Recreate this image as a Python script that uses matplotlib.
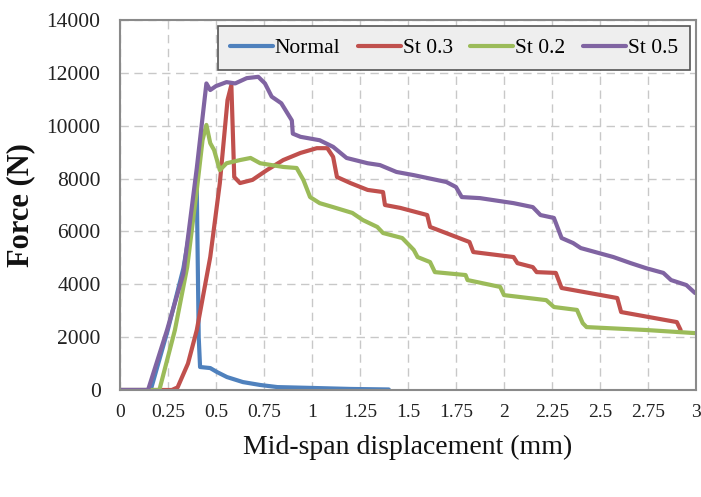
import matplotlib
matplotlib.use("Agg")
import matplotlib.pyplot as plt
import numpy as np

# ---------------- data ----------------
normal_x = [0.0, 0.16, 0.25, 0.33, 0.40, 0.41, 0.417, 0.47, 0.505, 0.557, 0.64, 0.73, 0.82, 0.99, 1.20, 1.40]
normal_y = [0, 0, 2300, 4600, 7600, 2000, 870, 830, 680, 490, 300, 190, 110, 80, 40, 20]

st03_x = [0.0, 0.27, 0.30, 0.354, 0.40, 0.47, 0.52, 0.56, 0.58, 0.595, 0.625, 0.69, 0.765, 0.85, 0.94,
          1.025, 1.08, 1.11, 1.13, 1.20, 1.29, 1.37, 1.38, 1.46, 1.60, 1.615, 1.82, 1.84, 2.05, 2.07,
          2.15, 2.17, 2.27, 2.30, 2.59, 2.61, 2.90, 2.92]
st03_y = [0, 0, 100, 1000, 2270, 5030, 7830, 10970, 11540, 8060, 7830, 7950, 8320, 8700, 8970,
          9150, 9150, 8820, 8060, 7830, 7570, 7490, 7000, 6890, 6620, 6170, 5600, 5220, 5030, 4800,
          4650, 4460, 4430, 3860, 3480, 2950, 2570, 2270]

st02_x = [0.0, 0.205, 0.286, 0.35, 0.40, 0.43, 0.45, 0.47, 0.49, 0.52, 0.555, 0.625, 0.68, 0.73, 0.85,
          0.92, 0.955, 0.99, 1.04, 1.11, 1.21, 1.265, 1.34, 1.37, 1.47, 1.53, 1.55, 1.615, 1.64, 1.80,
          1.81, 1.98, 2.00, 2.22, 2.26, 2.38, 2.41, 2.43, 2.74, 3.0]
st02_y = [0, 0, 2270, 4650, 7570, 9460, 10030, 9340, 9080, 8320, 8580, 8700, 8780, 8580, 8440,
          8400, 7950, 7300, 7070, 6920, 6700, 6430, 6170, 5940, 5750, 5300, 5030, 4840, 4460, 4350,
          4160, 3900, 3590, 3400, 3140, 3030, 2530, 2380, 2270, 2150]

st05_x = [0.0, 0.146, 0.245, 0.33, 0.40, 0.45, 0.47, 0.50, 0.555, 0.60, 0.66, 0.72, 0.755, 0.79, 0.84,
          0.895, 0.90, 0.94, 1.04, 1.11, 1.18, 1.29, 1.354, 1.44, 1.53, 1.70, 1.75, 1.78, 1.875, 2.05,
          2.15, 2.19, 2.26, 2.30, 2.36, 2.40, 2.57, 2.66, 2.74, 2.83, 2.87, 2.95, 2.995]
st05_y = [0, 0, 2270, 4400, 8400, 11600, 11350, 11500, 11650, 11600, 11800, 11850, 11600, 11100, 10850,
          10200, 9700, 9580, 9450, 9200, 8780, 8580, 8510, 8250, 8130, 7870, 7680, 7300, 7260, 7070,
          6920, 6620, 6510, 5750, 5560, 5370, 5030, 4800, 4610, 4430, 4160, 3970, 3670]

labels = ["Normal", "St 0.3", "St 0.2", "St 0.5"]
colors = ["#4F81BD", "#C0504D", "#9BBB59", "#8064A2"]

x_ticks = [0, 0.25, 0.5, 0.75, 1, 1.25, 1.5, 1.75, 2, 2.25, 2.5, 2.75, 3]
x_tick_labels = ["0", "0.25", "0.5", "0.75", "1", "1.25", "1.5", "1.75", "2", "2.25", "2.5", "2.75", "3"]
y_ticks = [0, 2000, 4000, 6000, 8000, 10000, 12000, 14000]

# ---------------- figure ----------------
plt.rcParams['font.family'] = ['Liberation Serif', 'DejaVu Serif']

fig = plt.figure(figsize=(7.01, 4.97), dpi=100)
ax = fig.add_axes([120 / 701, 1 - 390 / 497, 576 / 701, 370 / 497])

series = [(normal_x, normal_y), (st03_x, st03_y), (st02_x, st02_y), (st05_x, st05_y)]
for (xs, ys), lab, col in zip(series, labels, colors):
    ax.plot(xs, ys, color=col, lw=3.0, label=lab, solid_joinstyle='round', solid_capstyle='round')

ax.set_xlim(0, 3)
ax.set_ylim(0, 14000)
ax.set_xticks(x_ticks)
ax.set_xticklabels(x_tick_labels)
ax.set_yticks(y_ticks)
ax.tick_params(axis='both', length=0, colors='#222222')
ax.tick_params(axis='x', labelsize=14, pad=10)
ax.tick_params(axis='y', labelsize=15.5, pad=14)

ax.grid(True, color='#c8c8c8', linestyle=(0, (6, 4)), linewidth=1.0)
ax.set_axisbelow(True)
for sp in ax.spines.values():
    sp.set_color('#8a8a8a')
    sp.set_linewidth(1.5)

ax.set_xlabel("Mid-span displacement (mm)", fontsize=20, labelpad=10, color='#111111')
ax.set_ylabel("Force (N)", fontsize=22, fontweight='bold', labelpad=8, color='#111111')

leg = ax.legend(loc='upper right', ncol=4, fontsize=15.5, frameon=True, fancybox=False,
                handlelength=2.0, handletextpad=0.1, columnspacing=0.8,
                borderaxespad=0.2, borderpad=0.55, bbox_to_anchor=(0.997, 0.995))
leg.get_frame().set_facecolor('#eeeeee')
leg.get_frame().set_edgecolor('#555555')
leg.get_frame().set_linewidth(1.2)
leg.get_frame().set_alpha(1)

fig.savefig("out.png", dpi=100)
